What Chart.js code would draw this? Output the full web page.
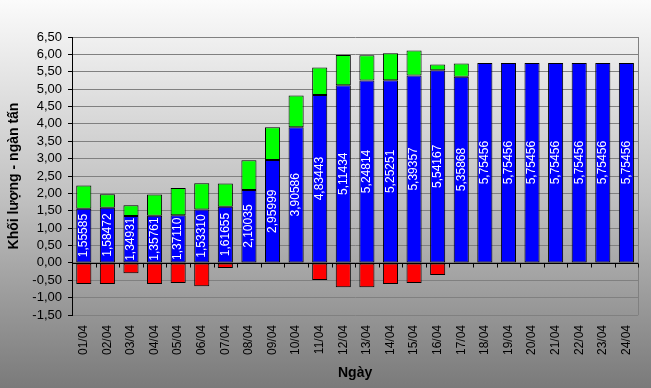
<!DOCTYPE html>
<html>
<head>
<meta charset="utf-8">
<script src="https://cdn.jsdelivr.net/npm/chart.js@4.4.0/dist/chart.umd.min.js"></script>
<style>
    html, body { margin: 0; padding: 0; }
    #wrap {
        width: 651px; height: 388px;
        background: linear-gradient(to bottom, #fbfbfb 0%, #c2c2c2 50%, #7a7a7a 100%);
    }
</style>
</head>
<body>
<div id="wrap"><canvas id="chart" width="651" height="388"></canvas></div>
<script>
// Ngày (categories)
const days = ['01/04', '02/04', '03/04', '04/04', '05/04', '06/04', '07/04', '08/04',
    '09/04', '10/04', '11/04', '12/04', '13/04', '14/04', '15/04', '16/04',
    '17/04', '18/04', '19/04', '20/04', '21/04', '22/04', '23/04', '24/04'];

// blue part (labelled values)
const blueValues = [1.55585, 1.58472, 1.34931, 1.35761, 1.37110, 1.53310, 1.61655, 2.10035,
    2.95999, 3.90586, 4.83443, 5.11434, 5.24814, 5.25251, 5.39357, 5.54167,
    5.35868, 5.75456, 5.75456, 5.75456, 5.75456, 5.75456, 5.75456, 5.75456];

// green part stacked on top
const greenValues = [0.67, 0.39, 0.31, 0.61, 0.78, 0.76, 0.67, 0.85,
    0.94, 0.91, 0.79, 0.87, 0.73, 0.78, 0.72, 0.17,
    0.38, 0, 0, 0, 0, 0, 0, 0];

// red part below zero
const redValues = [-0.61, -0.61, -0.30, -0.61, -0.58, -0.67, -0.15, 0,
    0, 0, -0.49, -0.70, -0.70, -0.61, -0.58, -0.35,
    0, 0, 0, 0, 0, 0, 0, 0];

const FONT = "'Liberation Sans', Arial, sans-serif";
const fmt = (v, d) => v.toFixed(d).replace('.', ',');

// white rotated value labels inside the blue bars
const blueLabels = {
    id: 'blueLabels',
    afterDatasetsDraw(chart) {
        const ctx = chart.ctx;
        const meta = chart.getDatasetMeta(0);
        ctx.save();
        ctx.fillStyle = '#fff';
        ctx.font = '12px ' + FONT;
        ctx.textAlign = 'center';
        ctx.textBaseline = 'middle';
        meta.data.forEach((bar, i) => {
            const cy = (bar.y + bar.base) / 2;
            ctx.save();
            ctx.translate(bar.x, cy);
            ctx.rotate(-Math.PI / 2);
            ctx.fillText(fmt(blueValues[i], 5), 0, 0);
            ctx.restore();
        });
        ctx.restore();
    }
};

// zero line with tick marks and the right border of the plot
const zeroAxis = {
    id: 'zeroAxis',
    afterDatasetsDraw(chart) {
        const ctx = chart.ctx;
        const x = chart.scales.x, y = chart.scales.y;
        const area = chart.chartArea;
        const y0 = Math.round(y.getPixelForValue(0)) + 0.5;
        ctx.save();
        ctx.strokeStyle = '#808080';
        ctx.lineWidth = 1;
        ctx.beginPath();
        ctx.moveTo(Math.round(area.right) + 0.5, area.top);
        ctx.lineTo(Math.round(area.right) + 0.5, area.bottom);
        ctx.stroke();
        ctx.strokeStyle = '#000';
        ctx.beginPath();
        ctx.moveTo(area.left, y0);
        ctx.lineTo(area.right, y0);
        const step = (area.right - area.left) / days.length;
        for (let i = 0; i <= days.length; i++) {
            const px = Math.round(x.getPixelForValue(0) - step / 2 + i * step) + 0.5;
            ctx.moveTo(px, y0);
            ctx.lineTo(px, y0 + 4);
        }
        ctx.stroke();
        ctx.restore();
    }
};

const barStyle = { borderColor: '#000', borderWidth: 1, borderSkipped: false,
    barPercentage: 0.64, categoryPercentage: 1 };

new Chart(document.getElementById('chart'), {
    type: 'bar',
    data: {
        labels: days,
        datasets: [
            { data: blueValues, backgroundColor: '#0000ff', ...barStyle },
            { data: greenValues, backgroundColor: '#00ff00', ...barStyle },
            { data: redValues, backgroundColor: '#ff0000', ...barStyle }
        ]
    },
    options: {
        responsive: false,
        animation: false,
        layout: { padding: { top: 37, right: 10, left: 0, bottom: 0 } },
        plugins: { legend: { display: false }, tooltip: { enabled: false } },
        scales: {
            x: {
                stacked: true,
                grid: { display: false, drawTicks: false },
                border: { display: false },
                ticks: { color: '#000', font: { family: FONT, size: 12 },
                    minRotation: 90, maxRotation: 90, padding: 10, autoSkip: false },
                title: { display: true, text: 'Ngày', color: '#000',
                    font: { family: FONT, size: 14, weight: 'bold' }, padding: { top: 0, bottom: 6 } },
                afterFit: s => { s.height = 73; }
            },
            y: {
                stacked: true,
                min: -1.5, max: 6.5,
                grid: { color: '#808080', tickColor: '#000', tickLength: 4 },
                border: { color: '#000' },
                ticks: { stepSize: 0.5, autoSkip: false, color: '#000', padding: 6,
                    font: { family: FONT, size: 13 }, callback: v => fmt(v, 2) },
                title: { display: true, text: 'Khối lượng - ngàn tấn', color: '#000',
                    font: { family: FONT, size: 14, weight: 'bold' }, padding: { top: 6, bottom: 0 } },
                afterFit: s => { s.width = 72; }
            }
        }
    },
    plugins: [blueLabels, zeroAxis]
});
</script>
</body>
</html>
